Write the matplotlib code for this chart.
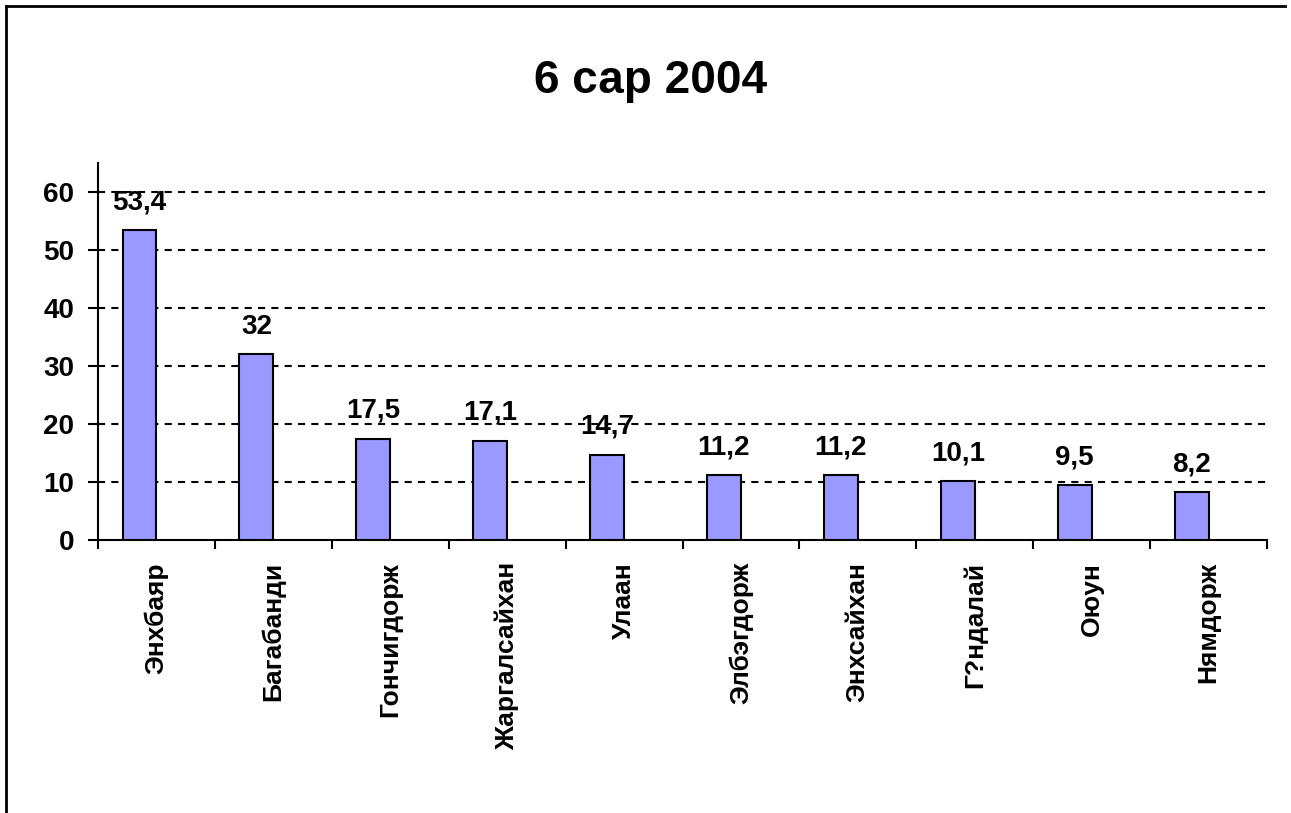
import matplotlib
matplotlib.use("Agg")
import matplotlib.pyplot as plt
from matplotlib.lines import Line2D

names = ["Энхбаяр", "Багабанди", "Гончигдорж", "Жаргалсайхан", "Улаан",
         "Элбэгдорж", "Энхсайхан", "Г?ндалай", "Оюун", "Нямдорж"]
values = [53.4, 32, 17.5, 17.1, 14.7, 11.2, 11.2, 10.1, 9.5, 8.2]
yticks = [0, 10, 20, 30, 40, 50, 60]
title = "6 сар 2004"

plt.rcParams['font.family'] = ['Liberation Sans', 'DejaVu Sans']
plt.rcParams['font.weight'] = 'bold'

W, H = 1291, 813
fig = plt.figure(figsize=(W / 100, H / 100), dpi=100)
ax = fig.add_axes([98 / W, 1 - 540 / H, (1267 - 98) / W, (540 - 163) / H])

n = len(values)
bw = 0.29
xs = [i - bw / 2 for i in range(n)]
ax.bar(xs, values, width=bw, color="#9999FF", edgecolor="black", linewidth=1.5, zorder=3)

for x, v in zip(xs, values):
    lab = f"{v:g}".replace(".", ",")
    ax.annotate(lab, (x, v), xytext=(0, 15), textcoords="offset points",
                ha="center", va="baseline", fontsize=20, fontweight="bold", zorder=4)

ax.set_xlim(-0.5, n - 0.5)
ax.set_ylim(0, 65)

ax.set_yticks(yticks)
ax.set_yticklabels([str(t) for t in yticks], fontsize=20, fontweight="bold")
for t in yticks[1:]:
    ax.axhline(t, color="black", linewidth=1.5, linestyle=(0, (3.4, 3.0)), zorder=1)

ax.set_xticks([i - 0.5 for i in range(n + 1)])
ax.set_xticklabels([])
ax.set_xticks(list(range(n)), minor=True)
ax.set_xticklabels(names, minor=True, rotation=90, fontsize=19, fontweight="bold",
                   va="top", ha="center")
ax.tick_params(axis="x", which="major", direction="out", length=6.5, width=1.5)
ax.tick_params(axis="x", which="minor", length=0, pad=16)
ax.tick_params(axis="y", direction="out", length=7, width=1.5, pad=10)

for s in ["top", "right"]:
    ax.spines[s].set_visible(False)
for s in ["left", "bottom"]:
    ax.spines[s].set_linewidth(1.5)

fig.text(651 / W, 1 - 93 / H, title, ha="center", va="baseline",
         fontsize=33, fontweight="bold")

# figure frame
fig.add_artist(Line2D([6 / W, 1285 / W], [1 - 6 / H, 1 - 6 / H], color="black",
                      linewidth=2, transform=fig.transFigure))
fig.add_artist(Line2D([6 / W, 6 / W], [0, 1 - 6 / H], color="black",
                      linewidth=2, transform=fig.transFigure))

fig.savefig("out.png", dpi=100)
